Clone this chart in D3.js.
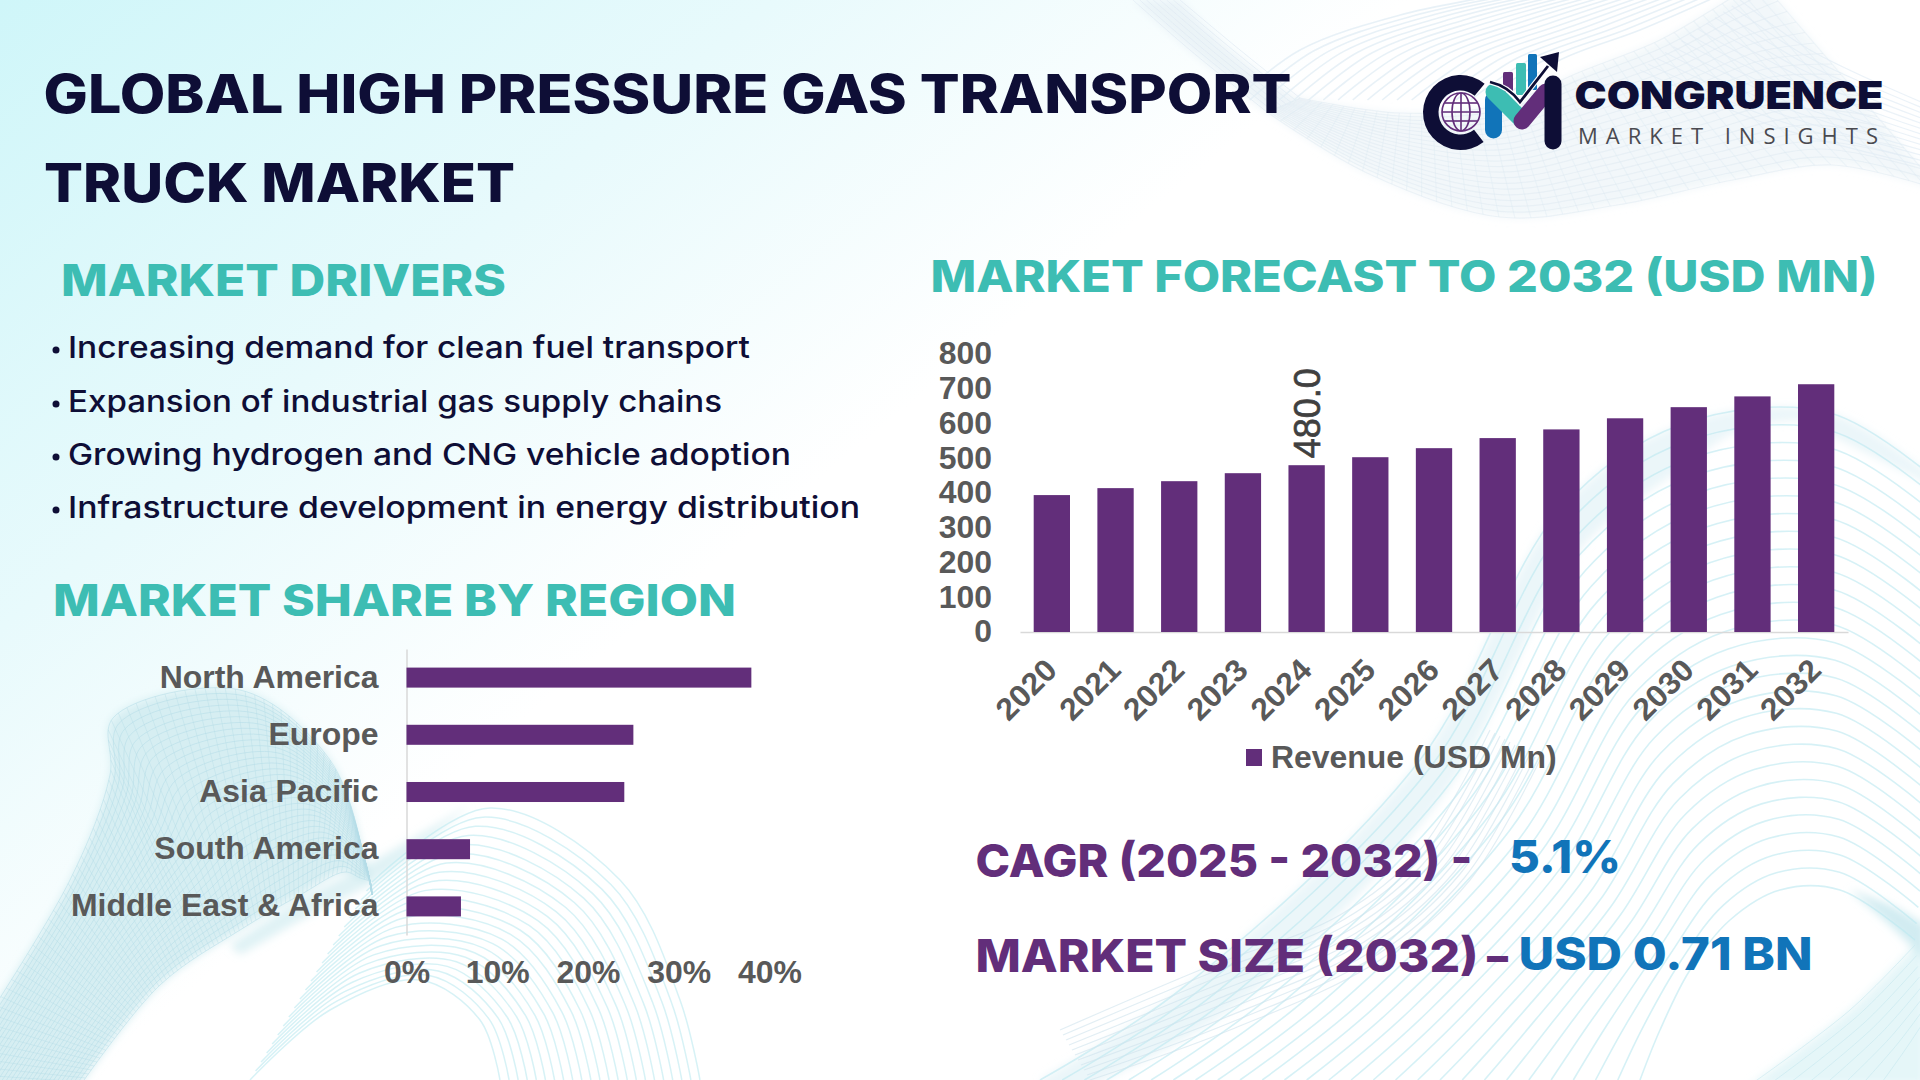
<!DOCTYPE html>
<html>
<head>
<meta charset="utf-8">
<title>Global High Pressure Gas Transport Truck Market</title>
<script src="https://d3js.org/d3.v7.min.js"></script>
<style>
    html, body { margin: 0; padding: 0; background: #fff; }
    svg { display: block; }
    .head { font-family: Inter, sans-serif; font-weight: 800; }
    .chartText { font-family: "Liberation Sans", Arial, sans-serif; font-weight: 700; fill: #595959; }
</style>
</head>
<body>
<div id="chart"></div>
<script>
// chart data
var years = ["2020", "2021", "2022", "2023", "2024", "2025", "2026", "2027", "2028", "2029", "2030", "2031", "2032"];
var revenue = [394, 414, 434, 457, 480, 503, 529, 558, 583, 615, 647, 678, 713];
var revenueTicks = [0, 100, 200, 300, 400, 500, 600, 700, 800];
var labelledYear = "2024";

var regions = ["North America", "Europe", "Asia Pacific", "South America", "Middle East & Africa"];
var regionShare = [38, 25, 24, 7, 6];
var shareTicks = [0, 10, 20, 30, 40];

var drivers = [
    "Increasing demand for clean fuel transport",
    "Expansion of industrial gas supply chains",
    "Growing hydrogen and CNG vehicle adoption",
    "Infrastructure development in energy distribution"
];

var purple = "#622e7a", teal = "#3dbdb3", navy = "#0e0e36", blue = "#1174b9";

var svg = d3.select("#chart").append("svg").attr("width", 1920).attr("height", 1080);

//background
var defs = svg.append("defs");
var grad = defs.append("linearGradient").attr("id", "bgGrad")
    .attr("gradientUnits", "userSpaceOnUse")
    .attr("x1", 0).attr("y1", 0).attr("x2", 560).attr("y2", 690);
grad.append("stop").attr("offset", "0%").attr("stop-color", "#cff6f9");
grad.append("stop").attr("offset", "55%").attr("stop-color", "#e8fafc");
grad.append("stop").attr("offset", "100%").attr("stop-color", "#ffffff");

function blurFilter(id, dev) {
    defs.append("filter").attr("id", id).attr("filterUnits", "userSpaceOnUse")
        .attr("x", 0).attr("y", 0).attr("width", 1920).attr("height", 1080)
        .append("feGaussianBlur").attr("stdDeviation", dev);
}
blurFilter("softFill", 4);
blurFilter("softLine", 0.5);

svg.append("rect").attr("width", 1920).attr("height", 1080).attr("fill", "#fff");
svg.append("rect").attr("width", 1920).attr("height", 1080).attr("fill", "url(#bgGrad)");

var bgFill = svg.append("g").attr("filter", "url(#softFill)");
var bg = svg.append("g").attr("fill", "none").attr("filter", "url(#softLine)");
var curve = d3.line().curve(d3.curveCatmullRom);

// family of lines between two edge curves
function ribbon(a, b, n, color, opacity, width) {
    for (var i = 0; i <= n; i++) {
        var t = i / n;
        var pts = a.map((p, k) => [p[0] + (b[k][0] - p[0]) * t, p[1] + (b[k][1] - p[1]) * t]);
        bg.append("path").attr("d", curve(pts))
            .attr("stroke", color).attr("stroke-opacity", opacity).attr("stroke-width", width);
    }
}

// lines running across a ribbon, gives the mesh look
function mesh(a, b, n, color, opacity, width) {
    var pa = bg.append("path").attr("d", curve(a)).node();
    var pb = bg.append("path").attr("d", curve(b)).node();
    var la = pa.getTotalLength(), lb = pb.getTotalLength();
    for (var i = 0; i <= n; i++) {
        var p = pa.getPointAtLength(la * i / n), q = pb.getPointAtLength(lb * i / n);
        bg.append("line").attr("x1", p.x).attr("y1", p.y).attr("x2", q.x).attr("y2", q.y)
            .attr("stroke", color).attr("stroke-opacity", opacity).attr("stroke-width", width);
    }
    pa.remove();
    pb.remove();
}

function tint(a, b, color, opacity) {
    bgFill.append("path").attr("d", curve(a) + "L" + curve(b.slice().reverse()).slice(1) + "Z")
        .attr("fill", color).attr("fill-opacity", opacity);
}

// top right waves
var trA = [[1267, 112], [1367, 173], [1500, 217], [1617, 205], [1733, 180], [1833, 165], [1940, 190]];
var trB = [[1300, 98], [1400, 113], [1500, 105], [1580, 72], [1660, 40], [1720, 5], [1760, -20]];
tint(trA, trB, "#e6eff5", 0.5);
ribbon(trA, trB, 20, "#dbe7f0", 0.45, 1.2);
mesh(trA, trB, 44, "#dbe7f0", 0.35, 1.2);
tint([[1133, 0], [1190, 50], [1267, 112]], [[1180, 0], [1230, 50], [1300, 100]], "#e6eff5", 0.7);
ribbon([[1133, 0], [1190, 50], [1267, 112]], [[1180, 0], [1240, 50], [1300, 98]], 7, "#dde8f1", 0.6, 1);
ribbon([[1235, 100], [1300, 50], [1400, 15], [1500, -5]], [[1500, 100], [1560, 60], [1640, 30], [1720, -5]], 18, "#e2edf5", 0.8, 1.6);
ribbon([[1740, 0], [1810, 50], [1940, 110]], [[1640, 70], [1770, 125], [1940, 170]], 12, "#e2edf5", 0.7, 1.2);

// bottom right arches
var brA = [[1040, 1080], [1180, 990], [1420, 760], [1560, 510], [1680, 425], [1830, 413], [1960, 500]];
var brB = [[1640, 1080], [1660, 1030], [1690, 970], [1730, 920], [1780, 890], [1840, 890], [1915, 940]];
var brEdge = [[1060, 1100], [1230, 1010], [1440, 800], [1580, 550], [1680, 470], [1740, 430], [1800, 420]];
tint(brA, brEdge, "#d8eef3", 0.5);
ribbon(brA, brB, 27, "#bde9f0", 0.62, 1.6);
ribbon([[1060, 1030], [1200, 970], [1340, 915], [1420, 850], [1490, 730]], [[1090, 1080], [1230, 1030], [1380, 960], [1470, 880], [1540, 760]], 10, "#cfe2ec", 0.6, 1.2);
tint([[1750, 1085], [1850, 1010], [1915, 945]], [[1925, 1085], [1925, 1060], [1925, 950]], "#cfeef3", 0.55);
ribbon([[1750, 1085], [1850, 1010], [1915, 945]], [[1880, 1085], [1905, 1050], [1925, 1020]], 7, "#bfe6ee", 0.5, 1);
tint([[1850, 890], [1890, 905], [1925, 925]], [[1850, 890], [1890, 925], [1925, 960]], "#c5e7ee", 0.8);

// bottom middle arches
var bmA = [[372, 882], [490, 808], [620, 880], [680, 1000], [700, 1080]];
var bmB = [[250, 1080], [330, 1010], [420, 980], [480, 1020], [500, 1080]];
ribbon(bmA, bmB, 22, "#bde9f0", 0.6, 1.5);

// bottom left blob
var blA = [[-60, 1090], [70, 880], [110, 775], [113, 718], [240, 690], [330, 760], [365, 860], [372, 895]];
var blB = [[77, 1090], [160, 985], [240, 930], [300, 895], [345, 872], [360, 878], [370, 882], [372, 895]];
tint(blA, blB, "#d3ecf1", 0.9);
ribbon(blA, blB, 32, "#b4dde7", 0.55, 1);
mesh(blA, blB, 80, "#b4dde7", 0.4, 1);
tint([[230, 945], [300, 900], [372, 862], [470, 805]], [[240, 955], [310, 915], [380, 878], [470, 805]], "#bfe6ec", 0.5);

//title and section headers
function headText(str, x, y, width, size, color, weight) {
    svg.append("text").attr("class", "head").attr("x", x).attr("y", y)
        .attr("font-size", size).attr("fill", color).attr("font-weight", weight || 800)
        .attr("textLength", width).attr("lengthAdjust", "spacingAndGlyphs")
        .text(str);
}

headText("GLOBAL HIGH PRESSURE GAS TRANSPORT", 43.5, 113, 1248, 53.5, navy);
headText("TRUCK MARKET", 44, 202, 471, 53.5, navy);
headText("MARKET DRIVERS", 61, 296, 445, 44, teal);
headText("MARKET SHARE BY REGION", 53, 616, 683, 44, teal);
headText("MARKET FORECAST TO 2032 (USD MN)", 930.5, 292, 947, 44, teal);

var driverEnds = [750, 722, 791, 860];
var driverBase = [358, 412, 465, 518];
drivers.forEach((d, i) => {
    svg.append("circle").attr("cx", 56).attr("cy", driverBase[i] - 8).attr("r", 3.5).attr("fill", navy);
    svg.append("text").attr("x", 68).attr("y", driverBase[i])
        .style("font-family", "Inter, sans-serif").style("font-weight", 500)
        .attr("font-size", 30).attr("fill", navy)
        .attr("textLength", driverEnds[i] - 68).attr("lengthAdjust", "spacingAndGlyphs")
        .text(d);
});

headText("CAGR (2025 - 2032) -", 975.5, 877, 497, 45.5, purple);
headText("5.1%", 1509, 873, 112, 45.5, blue);
headText("MARKET SIZE (2032)", 975.5, 972, 503, 45.5, purple);
headText("–", 1487, 972, 21, 45.5, purple);
headText("USD 0.71 BN", 1518.5, 970, 294, 45.5, blue);

// excel labels run a bit wider than the font at this size
function widen(sel) {
    sel.each(function() {
        d3.select(this).attr("textLength", this.getComputedTextLength() * 1.03)
            .attr("lengthAdjust", "spacingAndGlyphs");
    });
}

//forecast chart
var x1 = d3.scaleBand().domain(years).range([1020, 1848]).paddingInner(0.43).paddingOuter(0.215);
var y1 = d3.scaleLinear().domain([0, 800]).range([632, 354]);

var forecast = svg.append("g");

var xAxis1 = forecast.append("g").attr("transform", "translate(0,632)")
    .call(d3.axisBottom(x1).tickSize(0));
xAxis1.select(".domain").attr("stroke", "#d9d9d9").attr("stroke-width", 1.5);
xAxis1.selectAll("text").attr("class", "chartText").attr("font-size", 31)
    .attr("x", 0).attr("y", 0).attr("dy", 0)
    .attr("text-anchor", "end").attr("transform", "translate(7,40) rotate(-45)")
    .call(widen);

var yAxis1 = forecast.append("g").attr("transform", "translate(992,0)")
    .call(d3.axisLeft(y1).tickValues(revenueTicks).tickSize(0).tickPadding(0));
yAxis1.select(".domain").remove();
yAxis1.selectAll("text").attr("class", "chartText").attr("font-size", 31).call(widen);

forecast.selectAll("rect.bar").data(years).enter().append("rect")
    .attr("class", "bar")
    .attr("x", d => x1(d))
    .attr("y", (d, i) => y1(revenue[i]))
    .attr("width", x1.bandwidth())
    .attr("height", (d, i) => y1(0) - y1(revenue[i]))
    .attr("fill", purple);

var labelIdx = years.indexOf(labelledYear);
forecast.append("text")
    .attr("transform", "translate(" + (x1(labelledYear) + x1.bandwidth() / 2) + "," + (y1(revenue[labelIdx]) - 7) + ") rotate(-90)")
    .attr("dy", "0.36em")
    .style("font-family", "Liberation Sans, Arial, sans-serif")
    .attr("font-size", 37).attr("fill", "#404040")
    .attr("stroke", "#404040").attr("stroke-width", 0.7)
    .attr("textLength", 90).attr("lengthAdjust", "spacingAndGlyphs")
    .text(revenue[labelIdx].toFixed(1));

forecast.append("rect").attr("x", 1246).attr("y", 749).attr("width", 16).attr("height", 17).attr("fill", purple);
forecast.append("text").attr("class", "chartText").attr("x", 1271).attr("y", 768).attr("font-size", 31)
    .text("Revenue (USD Mn)").call(widen);

//region share chart
var x2 = d3.scaleLinear().domain([0, 40]).range([406.5, 769.5]);
var y2 = d3.scaleBand().domain(regions).range([649, 935]).paddingInner(0.65).paddingOuter(0.325);

var share = svg.append("g");

var yAxis2 = share.append("g").attr("transform", "translate(406.5,0)")
    .call(d3.axisLeft(y2).tickSize(0).tickPadding(28));
yAxis2.select(".domain").attr("stroke", "#d9d9d9").attr("stroke-width", 1.5);
yAxis2.selectAll("text").attr("class", "chartText").attr("font-size", 31).call(widen);

var xAxis2 = share.append("g").attr("transform", "translate(0,935)")
    .call(d3.axisBottom(x2).tickValues(shareTicks).tickSize(0).tickFormat(d => d + "%"));
xAxis2.select(".domain").remove();
xAxis2.selectAll("text").attr("class", "chartText").attr("font-size", 31)
    .attr("y", 37).attr("dy", "0.36em").call(widen);

share.selectAll("rect.bar").data(regions).enter().append("rect")
    .attr("class", "bar")
    .attr("x", x2(0))
    .attr("y", d => y2(d))
    .attr("width", (d, i) => x2(regionShare[i]) - x2(0))
    .attr("height", y2.bandwidth())
    .attr("fill", purple);

//logo
var logo = svg.append("g");
var rad = Math.PI / 180;
logo.append("path").attr("transform", "translate(1460.5,112.5)").attr("fill", navy)
    .attr("d", d3.arc().innerRadius(22).outerRadius(37.5).startAngle(142 * rad).endAngle(400 * rad)());

var globe = logo.append("g").attr("transform", "translate(1461,112)")
    .attr("fill", "none").attr("stroke", purple).attr("stroke-width", 1.6);
globe.append("circle").attr("r", 19);
globe.append("ellipse").attr("rx", 9).attr("ry", 19);
globe.append("line").attr("x1", 0).attr("x2", 0).attr("y1", -19).attr("y2", 19);
globe.append("line").attr("x1", -19).attr("x2", 19).attr("y1", 0).attr("y2", 0);
globe.append("line").attr("x1", -16).attr("x2", 16).attr("y1", -9).attr("y2", -9);
globe.append("line").attr("x1", -16).attr("x2", 16).attr("y1", 9).attr("y2", 9);

[[1503, 72, 10, 20, purple], [1516, 63, 10, 32, teal], [1528, 54, 9, 36, blue]].forEach(b => {
    logo.append("rect").attr("x", b[0]).attr("y", b[1]).attr("width", b[2]).attr("height", b[3]).attr("rx", 1.5).attr("fill", b[4]);
});

function stroke(x1, y1, x2, y2, color) {
    logo.append("line").attr("x1", x1).attr("y1", y1).attr("x2", x2).attr("y2", y2)
        .attr("stroke", color).attr("stroke-width", 17).attr("stroke-linecap", "round");
}
stroke(1493.5, 100, 1493.5, 130, blue);
stroke(1494, 92, 1522, 120, teal);
stroke(1522, 121, 1546, 92, purple);
stroke(1553, 84, 1553, 141, navy);

logo.append("path").attr("d", "M1490,82 Q1508,86 1520,102 L1548,66")
    .attr("fill", "none").attr("stroke", "#fff").attr("stroke-width", 5);
logo.append("path").attr("d", "M1490,82 Q1508,86 1520,102 L1548,66")
    .attr("fill", "none").attr("stroke", navy).attr("stroke-width", 2.8);
logo.append("path").attr("d", "M1559,52 L1540,57 L1557,72 Z").attr("fill", navy);

svg.append("text").attr("x", 1574.5).attr("y", 109)
    .style("font-family", "Inter, sans-serif").style("font-weight", 900)
    .attr("font-size", 39).attr("fill", navy)
    .attr("textLength", 309).attr("lengthAdjust", "spacingAndGlyphs")
    .text("CONGRUENCE");
svg.append("text").attr("x", 1578).attr("y", 144)
    .style("font-family", "'Open Sans', sans-serif")
    .attr("font-size", 22).attr("fill", "#4a4a50")
    .attr("textLength", 300).attr("lengthAdjust", "spacing")
    .text("MARKET INSIGHTS");
</script>
</body>
</html>
